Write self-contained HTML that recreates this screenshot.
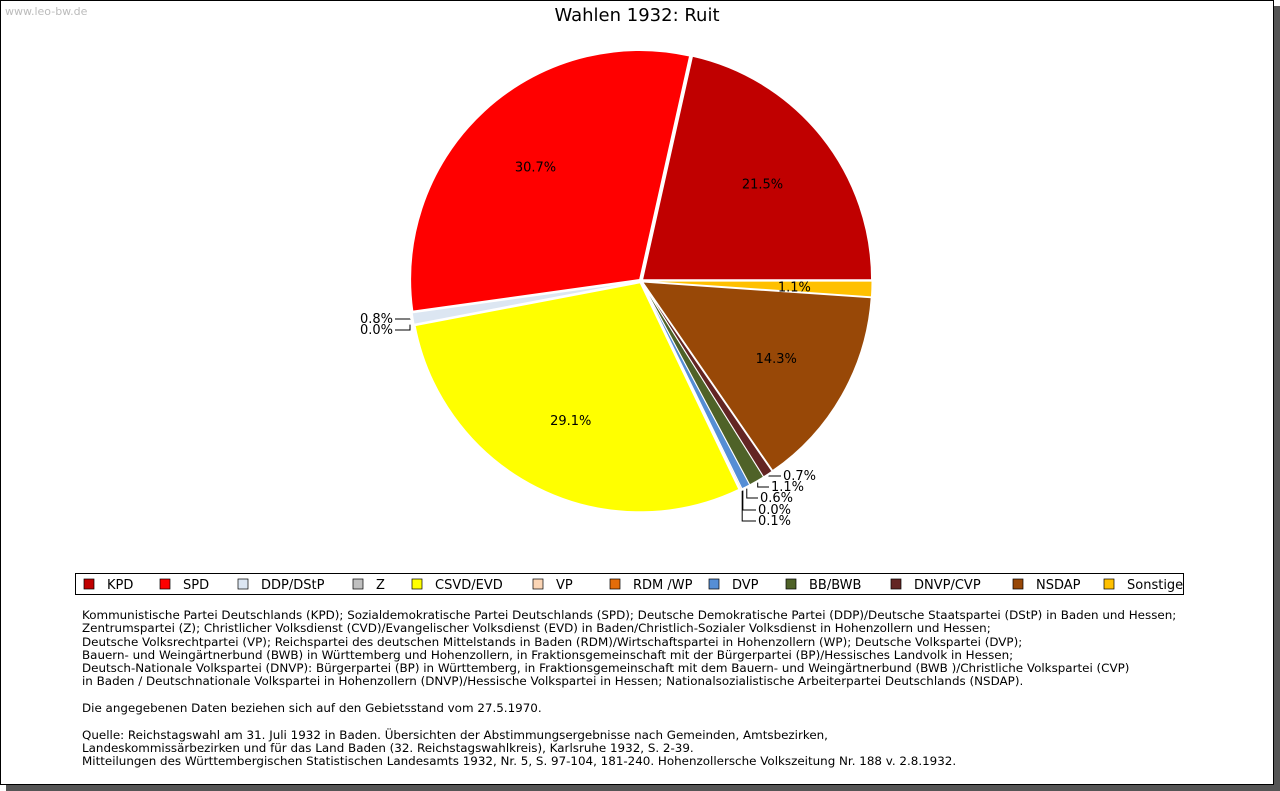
<!DOCTYPE html>
<html><head><meta charset="utf-8">
<style>
body{margin:0;background:#fff;font-family:"DejaVu Sans","Liberation Sans",sans-serif;}
#frame{position:absolute;left:0;top:0;width:1272px;height:783px;border:1px solid #000;background:#fff;box-shadow:6px 6px 0 #555;}
#notes{position:absolute;left:82px;top:609px;font-size:11.9px;line-height:13.3px;color:#000;white-space:pre;}
</style></head><body>
<div id="frame"></div>
<svg id="chart" width="1280" height="791" style="position:absolute;left:0;top:0">
<text x="5" y="15" font-size="11" fill="#bbb">www.leo-bw.de</text>
<text x="637" y="21" font-size="18" text-anchor="middle">Wahlen 1932: Ruit</text>
<g id="slices"></g><g id="labels"></g>
<rect x="75.5" y="573.5" width="1108" height="21" fill="#fff" stroke="#000"/>
<g id="legend"></g>
</svg>
<div id="notes">Kommunistische Partei Deutschlands (KPD); Sozialdemokratische Partei Deutschlands (SPD); Deutsche Demokratische Partei (DDP)/Deutsche Staatspartei (DStP) in Baden und Hessen;
Zentrumspartei (Z); Christlicher Volksdienst (CVD)/Evangelischer Volksdienst (EVD) in Baden/Christlich-Sozialer Volksdienst in Hohenzollern und Hessen;
Deutsche Volksrechtpartei (VP); Reichspartei des deutschen Mittelstands in Baden (RDM)/Wirtschaftspartei in Hohenzollern (WP); Deutsche Volkspartei (DVP);
Bauern- und Weingärtnerbund (BWB) in Württemberg und Hohenzollern, in Fraktionsgemeinschaft mit der Bürgerpartei (BP)/Hessisches Landvolk in Hessen;
Deutsch-Nationale Volkspartei (DNVP): Bürgerpartei (BP) in Württemberg, in Fraktionsgemeinschaft mit dem Bauern- und Weingärtnerbund (BWB )/Christliche Volkspartei (CVP)
in Baden / Deutschnationale Volkspartei in Hohenzollern (DNVP)/Hessische Volkspartei in Hessen; Nationalsozialistische Arbeiterpartei Deutschlands (NSDAP).

Die angegebenen Daten beziehen sich auf den Gebietsstand vom 27.5.1970.

Quelle: Reichstagswahl am 31. Juli 1932 in Baden. Übersichten der Abstimmungsergebnisse nach Gemeinden, Amtsbezirken,
Landeskommissärbezirken und für das Land Baden (32. Reichstagswahlkreis), Karlsruhe 1932, S. 2-39.
Mitteilungen des Württembergischen Statistischen Landesamts 1932, Nr. 5, S. 97-104, 181-240. Hohenzollersche Volkszeitung Nr. 188 v. 2.8.1932.</div>
<script>
const parties=["KPD","SPD","DDP/DStP","Z","CSVD/EVD","VP","RDM /WP","DVP","BB/BWB","DNVP/CVP","NSDAP","Sonstige"];
const values=[21.5,30.7,0.8,0.0,29.1,0.1,0.0,0.6,1.1,0.7,14.3,1.1];
const colors=["#c00000","#ff0000","#dce6f2","#c0c0c0","#ffff00","#fbd5b5","#e36c09","#558ed5","#4f6228","#632523","#984807","#ffc000"];
const legendX=[84,160,238,353,412,533,610,709,786,891,1013,1104];
// external label layout for small slices: [labelX,labelY]
const extLabels={2:[395,319],3:[395,330],5:[756,521],6:[756,510],7:[758,498],8:[769,487],9:[781,476]};
const NS="http://www.w3.org/2000/svg";
const cx=641,cy=281,R=229;
const total=values.reduce((a,b)=>a+b,0);
function pt(a,r){return [cx+r*Math.cos(a),cy-r*Math.sin(a)];}
const gS=document.getElementById('slices'),gL=document.getElementById('labels'),gG=document.getElementById('legend');
let a0=0;
values.forEach((v,i)=>{
  const sw=v/total*2*Math.PI, a1=a0+sw, mid=a0+sw/2;
  const off=2, ox=off*Math.cos(mid), oy=-off*Math.sin(mid);
  if(v>0){
    const p0=pt(a0,R),p1=pt(a1,R);
    const path=document.createElementNS(NS,'path');
    path.setAttribute('d',`M${cx+ox},${cy+oy} L${p0[0]+ox},${p0[1]+oy} A${R},${R} 0 ${sw>Math.PI?1:0} 0 ${p1[0]+ox},${p1[1]+oy} Z`);
    path.setAttribute('fill',colors[i]);path.setAttribute('stroke','#fff');path.setAttribute('stroke-width','1');
    
    
    gS.appendChild(path);
  }
  const t=document.createElementNS(NS,'text');
  t.setAttribute('font-size','13');
  t.textContent=v.toFixed(1)+'%';
  
  
  if(extLabels[i]){
    const [lx,ly]=extLabels[i];const e=pt(mid,R+4);
    const left=Math.cos(mid)<0;
    t.setAttribute('x',left?lx-2:lx+2);t.setAttribute('y',ly+4);
    t.setAttribute('text-anchor',left?'end':'start');
    const l=document.createElementNS(NS,'polyline');
    l.setAttribute('points',left?`${lx},${ly} ${lx+15},${ly} ${lx+15},${e[1]}`:`${e[0]},${e[1]} ${e[0]},${ly} ${lx},${ly}`);
    l.setAttribute('fill','none');l.setAttribute('stroke','#000');
    
    
    gL.appendChild(l);
  } else {
    const p=v<5?pt(mid,R*0.67):pt(mid,R*0.68);
    t.setAttribute('x',p[0]);t.setAttribute('y',p[1]+5);t.setAttribute('text-anchor','middle');
  }
  gL.appendChild(t);
  a0=a1;
  const sq=document.createElementNS(NS,'rect');
  sq.setAttribute('x',legendX[i]);sq.setAttribute('y',579);sq.setAttribute('width',10);sq.setAttribute('height',10);
  sq.setAttribute('fill',colors[i]);sq.setAttribute('stroke','#000');sq.setAttribute('stroke-width','0.7');
  
  
  gG.appendChild(sq);
  const lt=document.createElementNS(NS,'text');
  lt.setAttribute('x',legendX[i]+23);lt.setAttribute('y',589);lt.setAttribute('font-size','13');
  lt.textContent=parties[i];
  
  
  gG.appendChild(lt);
});
</script>
</body></html>
